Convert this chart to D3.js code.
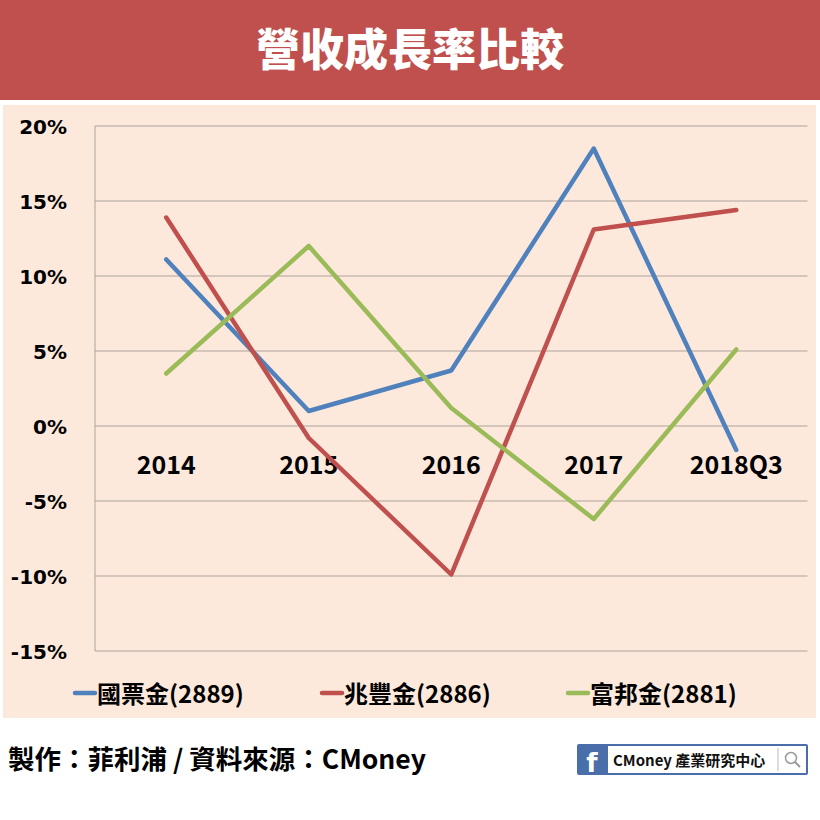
<!DOCTYPE html>
<html><head><meta charset="utf-8">
<script src="https://cdn.jsdelivr.net/npm/d3@7"></script>
<style>
html,body{margin:0;padding:0;background:#fff;}
svg{display:block;}
</style></head>
<body>
<script>
const title = "營收成長率比較";
const categories = ["2014","2015","2016","2017","2018Q3"];
const seriesNames = ["國票金(2889)","兆豐金(2886)","富邦金(2881)"];
const seriesColors = ["#4F81BD","#C0504D","#9BBB59"];
const valsGuopiao = [11.1, 1.0, 3.7, 18.5, -1.6];
const valsZhaofeng = [13.9, -0.8, -9.9, 13.1, 14.4];
const valsFubon = [3.5, 12.0, 1.2, -6.2, 5.1];
const yTicks = [-15,-10,-5,0,5,10,15,20];
const footerText = "製作：菲利浦 / 資料來源：CMoney";
const logoText = "CMoney 產業研究中心";

(function(){
const seriesValues = [valsGuopiao, valsZhaofeng, valsFubon];
const W = 820, H = 820;
const svg = d3.select("body").append("svg").attr("width", W).attr("height", H);

// title bar
svg.append("rect").attr("x",0).attr("y",0).attr("width",W).attr("height",100).attr("fill","#C0504D");
svg.append("text").attr("x",410).attr("y",66).attr("text-anchor","middle")
  .attr("font-family","'Noto Sans CJK TC'").attr("font-weight",900).attr("font-size",44)
  .attr("fill","#fff").text(title);

// chart background
svg.append("rect").attr("x",3).attr("y",105).attr("width",813).attr("height",613).attr("fill","#FCE9DC");

const pL = 95, pR = 807.5, pT = 126, pB = 651;
const x = d3.scaleBand().domain(categories).range([pL,pR]);
const y = d3.scaleLinear().domain([-15,20]).range([pB,pT]);

// gridlines
svg.append("g").selectAll("line").data(yTicks).join("line")
  .attr("x1",pL).attr("x2",pR).attr("y1",d=>y(d)).attr("y2",d=>y(d))
  .attr("stroke","#AFA29A").attr("stroke-width",1);
svg.append("line").attr("x1",pL).attr("x2",pL).attr("y1",pT).attr("y2",pB)
  .attr("stroke","#AFA29A").attr("stroke-width",1);

// y labels
const yAxis = d3.axisLeft(y).tickValues(yTicks).tickFormat(d=>d+"%").tickSize(0).tickPadding(0);
const ya = svg.append("g").attr("transform","translate(67,0)").call(yAxis);
ya.select(".domain").remove();
ya.selectAll("text").attr("font-family","'DejaVu Sans'").attr("font-weight","bold")
  .attr("font-size",20).attr("fill","#000").attr("dy","0.36em");

// x category labels
const xAxis = d3.axisBottom(x).tickSize(0).tickPadding(0);
const xa = svg.append("g").attr("transform","translate(0,456)").call(xAxis);
xa.select(".domain").remove();
xa.selectAll("text").attr("font-family","'Noto Sans CJK TC'").attr("font-weight","bold")
  .attr("font-size",25).attr("fill","#000").attr("dy","0.71em");

// lines
const line = d3.line().x((d,i)=>x(categories[i])+x.bandwidth()/2).y(d=>y(d));
svg.append("g").selectAll("path").data(seriesValues).join("path")
  .attr("d",d=>line(d)).attr("fill","none")
  .attr("stroke",(d,i)=>seriesColors[i]).attr("stroke-width",4.5)
  .attr("stroke-linejoin","round").attr("stroke-linecap","round");

// legend
const legX = [75, 322, 568];
const lg = svg.append("g").selectAll("g").data(seriesNames).join("g")
  .attr("transform",(d,i)=>`translate(${legX[i]},693)`);
lg.append("line").attr("x1",0).attr("x2",20).attr("y1",0).attr("y2",0)
  .attr("stroke",(d,i)=>seriesColors[i]).attr("stroke-width",4.5).attr("stroke-linecap","round");
lg.append("text").attr("x",22).attr("y",10).attr("font-family","'Noto Sans CJK TC'")
  .attr("font-weight","bold").attr("font-size",24).attr("fill","#000").text(d=>d);

// footer
svg.append("text").attr("x",8).attr("y",769).attr("font-family","'Noto Sans CJK TC'")
  .attr("font-weight","bold").attr("font-size",26.5).attr("fill","#000").text(footerText);

// logo
const logo = svg.append("g");
logo.append("rect").attr("x",577).attr("y",744).attr("width",231).attr("height",31).attr("rx",2)
  .attr("fill","#4A6EA9");
logo.append("rect").attr("x",608).attr("y",746).attr("width",198).attr("height",27).attr("fill","#fff");
logo.append("text").attr("x",592).attr("y",772).attr("text-anchor","middle")
  .attr("font-family","'DejaVu Sans'").attr("font-weight","bold").attr("font-size",26).attr("fill","#fff").text("f");
logo.append("text").attr("x",613).attr("y",766).attr("font-family","'Noto Sans CJK TC'")
  .attr("font-weight","bold").attr("font-size",15).attr("fill","#111").text(logoText);
logo.append("line").attr("x1",778).attr("x2",778).attr("y1",748).attr("y2",771).attr("stroke","#bbb");
logo.append("circle").attr("cx",791).attr("cy",758).attr("r",5.5).attr("fill","none").attr("stroke","#999").attr("stroke-width",1.5);
logo.append("line").attr("x1",795).attr("y1",762).attr("x2",800).attr("y2",767).attr("stroke","#999").attr("stroke-width",2);
})();
</script>
</body></html>
